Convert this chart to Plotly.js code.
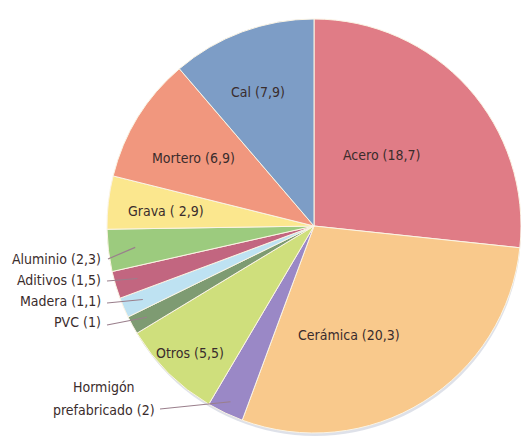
<!DOCTYPE html>
<html>
<head>
<meta charset="utf-8">
<script src="https://cdn.plot.ly/plotly-3.0.1.min.js"></script>
<style>html,body{margin:0;padding:0;background:#fff;}#chart{width:521px;height:443px;}</style>
</head>
<body>
<div id="chart"></div>
<script>
// ---- data ----
const labels = ['Acero','Cerámica','Hormigón prefabricado','Otros','PVC','Madera','Aditivos','Aluminio','Grava','Mortero','Cal'];
const values = [18.7, 20.3, 2, 5.5, 1, 1.1, 1.5, 2.3, 2.9, 6.9, 7.9];
const labelTexts = ['Acero (18,7)','Cerámica (20,3)','Hormigón|prefabricado (2)','Otros (5,5)','PVC (1)','Madera (1,1)','Aditivos (1,5)','Aluminio (2,3)','Grava ( 2,9)','Mortero (6,9)','Cal (7,9)'];
const colors = ['#E07C86','#F9C98C','#9A88C6','#CFDF7C','#7E9B72','#BEE2F2','#C26680','#9CCB7E','#FBE78E','#F1977E','#7D9DC6'];

// ---- layout constants ----
const W = 521, H = 443;
const CX = 314, CY = 226, R = 207;
const FONT = 'Liberation Sans Narrow, DejaVu Sans Condensed, Arial Narrow, sans-serif';
const TXT = '#3a2c2c';
// label placement: [x, y, anchor] in pixels; 'c' centre, 'r' right edge
const labelPlace = [
  [381,155,'c'], [349,335,'c'], [157,387,'r'], [190,353,'c'], [103,322,'r'],
  [103,301,'r'], [103,280,'r'], [103,259,'r'], [166,211,'c'], [193,158,'c'], [258,92,'c']
];
// leader line starts (pixels) for outside labels, and tip radius fraction
const leaderStart = {2:[160,409], 4:[107,325], 5:[107,303], 6:[107,281], 7:[108,259]};
const tipR = {2:0.94, 4:0.92, 5:0.9, 6:0.89, 7:0.87};

const px = x => x / W;
const py = y => 1 - y / H;

const total = values.reduce((a,b)=>a+b,0);
let cum = 0;
const midAng = values.map(v => { const m = (cum + v/2) / total * 2*Math.PI; cum += v; return m; });

const annotations = [];
const shapes = [];
labelTexts.forEach((t, i) => {
  const [x, y, a] = labelPlace[i];
  const lines = t.split('|');
  if (lines.length === 2) {
    const cxl = 103.5;
    annotations.push({x:px(cxl), y:py(y), xref:'paper', yref:'paper', text:lines[0], showarrow:false, xanchor:'center', yanchor:'middle', font:{family:FONT,size:14,color:TXT}});
    annotations.push({x:px(cxl), y:py(y+23), xref:'paper', yref:'paper', text:lines[1], showarrow:false, xanchor:'center', yanchor:'middle', font:{family:FONT,size:14,color:TXT}});
  } else {
    annotations.push({x:px(x), y:py(y), xref:'paper', yref:'paper', text:t, showarrow:false,
      xanchor: a === 'r' ? 'right' : 'center', yanchor:'middle', font:{family:FONT,size:14,color:TXT}});
  }
  if (leaderStart[i]) {
    const [sx, sy] = leaderStart[i];
    const rr = R * tipR[i];
    const tx = CX + Math.sin(midAng[i]) * rr;
    const ty = CY - Math.cos(midAng[i]) * rr;
    shapes.push({type:'line', xref:'paper', yref:'paper', x0:px(sx), y0:py(sy), x1:px(tx), y1:py(ty),
      line:{color:'#9a7f8c', width:1.2}});
  }
});

const domain = {x:[(CX-R)/W, Math.min(1,(CX+R)/W)], y:[(H-CY-R)/H, (H-CY+R)/H]};
const shadowDomain = {x:[(CX-R+2)/W, Math.min(1,(CX+R+2)/W)], y:[(H-CY-R-4)/H, (H-CY+R-4)/H]};

const traces = [
  {type:'pie', values:[1], marker:{colors:['#d6dae3'], line:{width:0}}, textinfo:'none', hoverinfo:'skip',
   domain:shadowDomain, sort:false, showlegend:false, opacity:0.8},
  {type:'pie', labels:labels, values:values, sort:false, direction:'clockwise', rotation:0,
   marker:{colors:colors, line:{color:'#fbf4e4', width:1}}, textinfo:'none', domain:domain, showlegend:false}
];

const layout = {
  width:W, height:H, margin:{l:0,r:0,t:0,b:0}, paper_bgcolor:'#ffffff', plot_bgcolor:'#ffffff',
  showlegend:false, annotations:annotations, shapes:shapes
};
Plotly.newPlot('chart', traces, layout, {displayModeBar:false, staticPlot:true});
</script>
</body>
</html>
